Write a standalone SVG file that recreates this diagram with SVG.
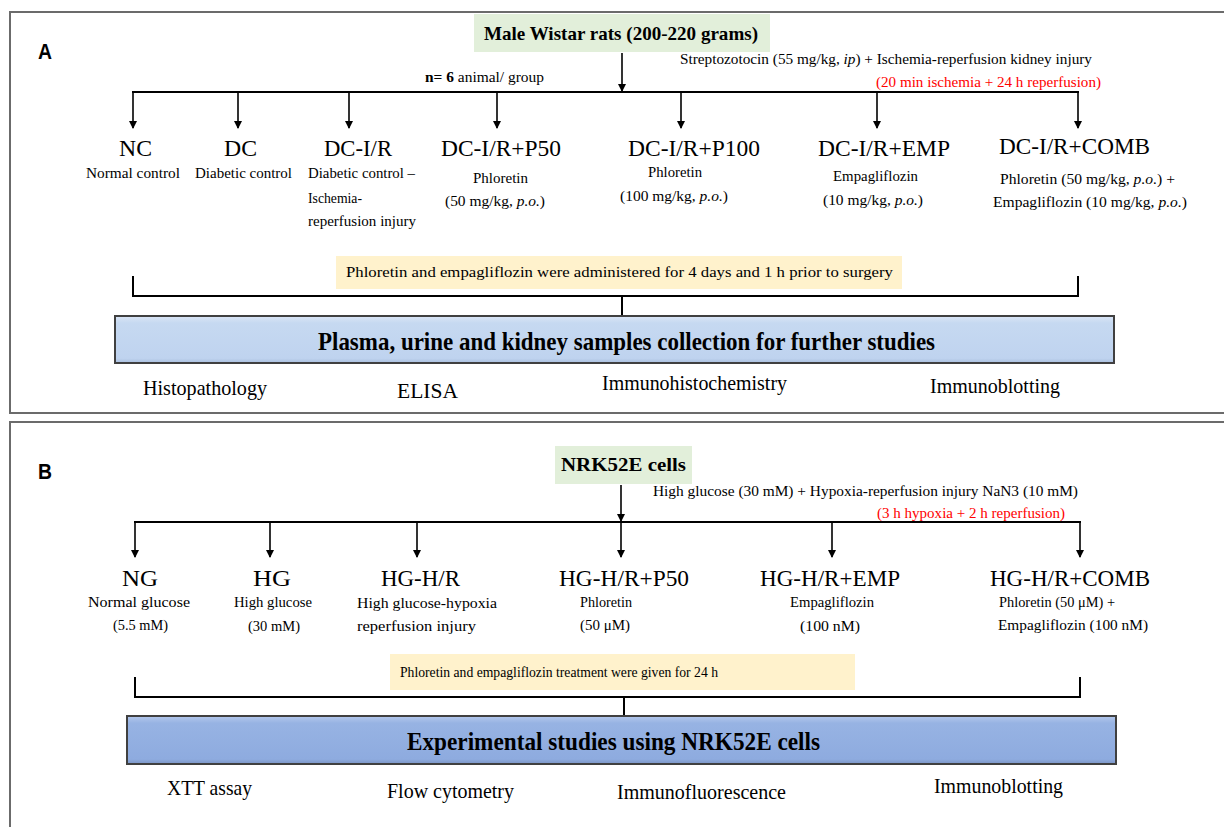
<svg xmlns="http://www.w3.org/2000/svg" width="1224" height="827" viewBox="0 0 1224 827">
<style>
.panel{fill:#fff;stroke:#6b6b6b;stroke-width:2}
.ln{stroke:#000;stroke-width:2;fill:none}
.ar{stroke:#000;stroke-width:1.6;fill:none;marker-end:url(#ah)}
.t{font-family:"Liberation Serif","Times New Roman",serif;fill:#000}
.big{font-size:24px}
.sub{font-size:15px}
.note{font-size:15px}
.bot{font-size:21px}
.red{fill:#ff0000}
.bold{font-weight:bold}
.lab{font-family:"Liberation Sans",Arial,sans-serif;font-weight:bold;font-size:22px}
.green{fill:#e2efda}
.beige{fill:#fff2cc}
.boxA{fill:url(#gA);stroke:#404040;stroke-width:2}
.boxB{fill:url(#gB);stroke:#404040;stroke-width:2}
</style>
<defs>
<marker id="ah" markerWidth="8" markerHeight="8" refX="7" refY="4" orient="auto" markerUnits="userSpaceOnUse">
<path d="M0,0 L8,4 L0,8 Z" fill="#000"/>
</marker>
<linearGradient id="gA" x1="0" y1="0" x2="0" y2="1">
<stop offset="0" stop-color="#dbe6f6"/>
<stop offset="0.15" stop-color="#c6d9f1"/>
<stop offset="0.9" stop-color="#bfd3ef"/>
<stop offset="1" stop-color="#a9bedd"/>
</linearGradient>
<linearGradient id="gB" x1="0" y1="0" x2="0" y2="1">
<stop offset="0" stop-color="#b4c8ec"/>
<stop offset="0.15" stop-color="#97b3e3"/>
<stop offset="0.9" stop-color="#8eabdf"/>
<stop offset="1" stop-color="#7c95c4"/>
</linearGradient>
</defs>

<g id="panelA">
<rect class="panel" x="10" y="12" width="1224" height="401"/>
<text class="lab" x="38" y="59" textLength="14" lengthAdjust="spacingAndGlyphs">A</text>
</g>
<g id="panelB">
<rect class="panel" x="10" y="422" width="1224" height="420"/>
<text class="lab" x="38" y="479" textLength="14" lengthAdjust="spacingAndGlyphs">B</text>
</g>

<g id="connectors">
<line class="ar" x1="622" y1="53" x2="622" y2="91"/>
<line class="ln" x1="132" y1="92" x2="1079" y2="92"/>
<line class="ar" x1="133" y1="92" x2="133" y2="128"/>
<line class="ar" x1="238" y1="92" x2="238" y2="128"/>
<line class="ar" x1="349" y1="92" x2="349" y2="128"/>
<line class="ar" x1="497" y1="92" x2="497" y2="128"/>
<line class="ar" x1="681" y1="92" x2="681" y2="128"/>
<line class="ar" x1="877" y1="92" x2="877" y2="128"/>
<line class="ar" x1="1078" y1="92" x2="1078" y2="128"/>
<polyline class="ln" points="133,276 133,296 1078,296 1078,276"/>
<line class="ln" x1="622" y1="296" x2="622" y2="315"/>
<line class="ar" x1="621" y1="485" x2="621" y2="521"/>
<line class="ln" x1="134" y1="522" x2="1081" y2="522"/>
<line class="ar" x1="135" y1="522" x2="135" y2="557"/>
<line class="ar" x1="270" y1="522" x2="270" y2="557"/>
<line class="ar" x1="417" y1="522" x2="417" y2="557"/>
<line class="ar" x1="621" y1="522" x2="621" y2="557"/>
<line class="ar" x1="832" y1="522" x2="832" y2="557"/>
<line class="ar" x1="1080" y1="522" x2="1080" y2="557"/>
<polyline class="ln" points="135,677 135,697 1080,697 1080,677"/>
<line class="ln" x1="624" y1="697" x2="624" y2="716"/>
</g>

<g id="rats">
<rect class="green" x="474" y="14" width="296" height="38"/>
<text class="t bold" x="484" y="40" font-size="19" textLength="274" lengthAdjust="spacingAndGlyphs">Male Wistar rats (200-220 grams)</text>
</g>
<g id="nA">
<text class="t note" x="425" y="82" textLength="119" lengthAdjust="spacingAndGlyphs"><tspan font-weight="bold">n= 6</tspan> animal/  group</text>
</g>
<g id="stz">
<text class="t note" x="680" y="64" textLength="412" lengthAdjust="spacingAndGlyphs">Streptozotocin  (55 mg/kg,  <tspan font-style="italic">ip</tspan>) + Ischemia-reperfusion  kidney  injury</text>
<text class="t note red" x="876" y="87" textLength="225" lengthAdjust="spacingAndGlyphs">(20 min  ischemia  + 24 h reperfusion)</text>
</g>
<g id="NC">
<text class="t big" x="119" y="156" textLength="33" lengthAdjust="spacingAndGlyphs">NC</text>
<text class="t sub" x="86" y="178" textLength="94" lengthAdjust="spacingAndGlyphs">Normal control</text>
</g>
<g id="DC">
<text class="t big" x="224" y="156" textLength="33" lengthAdjust="spacingAndGlyphs">DC</text>
<text class="t sub" x="195" y="178" textLength="97" lengthAdjust="spacingAndGlyphs">Diabetic  control</text>
</g>
<g id="DCIR">
<text class="t big" x="324" y="156" textLength="68" lengthAdjust="spacingAndGlyphs">DC-I/R</text>
<text class="t sub" x="308" y="178" textLength="107" lengthAdjust="spacingAndGlyphs">Diabetic  control –</text>
<text class="t sub" x="308" y="203" textLength="54" lengthAdjust="spacingAndGlyphs">Ischemia-</text>
<text class="t sub" x="308" y="226" textLength="108" lengthAdjust="spacingAndGlyphs">reperfusion  injury</text>
</g>
<g id="DCIRP50">
<text class="t big" x="441" y="156" textLength="120" lengthAdjust="spacingAndGlyphs">DC-I/R+P50</text>
<text class="t sub" x="473" y="183" textLength="55" lengthAdjust="spacingAndGlyphs">Phloretin</text>
<text class="t sub" x="445" y="206" textLength="100" lengthAdjust="spacingAndGlyphs">(50 mg/kg,  <tspan font-style="italic">p.o.</tspan>)</text>
</g>
<g id="DCIRP100">
<text class="t big" x="628" y="156" textLength="132" lengthAdjust="spacingAndGlyphs">DC-I/R+P100</text>
<text class="t sub" x="648" y="177" textLength="54" lengthAdjust="spacingAndGlyphs">Phloretin</text>
<text class="t sub" x="620" y="201" textLength="108" lengthAdjust="spacingAndGlyphs">(100 mg/kg,  <tspan font-style="italic">p.o.</tspan>)</text>
</g>
<g id="DCIREMP">
<text class="t big" x="818" y="156" textLength="132" lengthAdjust="spacingAndGlyphs">DC-I/R+EMP</text>
<text class="t sub" x="833" y="181" textLength="85" lengthAdjust="spacingAndGlyphs">Empagliflozin</text>
<text class="t sub" x="823" y="205" textLength="100" lengthAdjust="spacingAndGlyphs">(10 mg/kg,  <tspan font-style="italic">p.o.</tspan>)</text>
</g>
<g id="DCIRCOMB">
<text class="t big" x="999" y="154" textLength="151" lengthAdjust="spacingAndGlyphs">DC-I/R+COMB</text>
<text class="t sub" x="1000" y="184" textLength="175" lengthAdjust="spacingAndGlyphs">Phloretin  (50 mg/kg,  <tspan font-style="italic">p.o.</tspan>) +</text>
<text class="t sub" x="993" y="207" textLength="194" lengthAdjust="spacingAndGlyphs">Empagliflozin  (10 mg/kg,  <tspan font-style="italic">p.o.</tspan>)</text>
</g>
<g id="treatA">
<rect class="beige" x="336" y="256" width="566" height="33"/>
<text class="t note" x="346" y="277" textLength="547" lengthAdjust="spacingAndGlyphs">Phloretin and empagliflozin  were administered  for 4 days  and  1 h  prior to surgery</text>
</g>
<g id="collectA">
<rect class="boxA" x="115" y="316" width="999" height="47"/>
<text class="t bold" x="318" y="350" font-size="26" textLength="617" lengthAdjust="spacingAndGlyphs">Plasma, urine and kidney samples  collection for further studies</text>
</g>
<g id="assaysA">
<text class="t bot" x="143" y="395" textLength="124" lengthAdjust="spacingAndGlyphs">Histopathology</text>
<text class="t bot" x="397" y="398" textLength="61" lengthAdjust="spacingAndGlyphs">ELISA</text>
<text class="t bot" x="602" y="390" textLength="185" lengthAdjust="spacingAndGlyphs">Immunohistochemistry</text>
<text class="t bot" x="930" y="393" textLength="130" lengthAdjust="spacingAndGlyphs">Immunoblotting</text>
</g>

<g id="cells">
<rect class="green" x="555" y="446" width="137" height="38"/>
<text class="t bold" x="561" y="471" font-size="19" textLength="125" lengthAdjust="spacingAndGlyphs">NRK52E  cells</text>
</g>
<g id="hg">
<text class="t note" x="653" y="496" textLength="425" lengthAdjust="spacingAndGlyphs">High  glucose  (30 mM) + Hypoxia-reperfusion  injury  NaN3 (10 mM)</text>
<text class="t note red" x="877" y="518" textLength="188" lengthAdjust="spacingAndGlyphs">(3 h hypoxia  + 2 h reperfusion)</text>
</g>
<g id="NG">
<text class="t big" x="122" y="586" textLength="36" lengthAdjust="spacingAndGlyphs">NG</text>
<text class="t sub" x="88" y="607" textLength="102" lengthAdjust="spacingAndGlyphs">Normal  glucose</text>
<text class="t sub" x="113" y="630" textLength="55" lengthAdjust="spacingAndGlyphs">(5.5 mM)</text>
</g>
<g id="HG">
<text class="t big" x="253" y="586" textLength="38" lengthAdjust="spacingAndGlyphs">HG</text>
<text class="t sub" x="234" y="607" textLength="78" lengthAdjust="spacingAndGlyphs">High  glucose</text>
<text class="t sub" x="248" y="631" textLength="52" lengthAdjust="spacingAndGlyphs">(30 mM)</text>
</g>
<g id="HGHR">
<text class="t big" x="381" y="586" textLength="79" lengthAdjust="spacingAndGlyphs">HG-H/R</text>
<text class="t sub" x="357" y="608" textLength="140" lengthAdjust="spacingAndGlyphs">High  glucose-hypoxia</text>
<text class="t sub" x="357" y="631" textLength="119" lengthAdjust="spacingAndGlyphs">reperfusion  injury</text>
</g>
<g id="HGHRP50">
<text class="t big" x="559" y="586" textLength="130" lengthAdjust="spacingAndGlyphs">HG-H/R+P50</text>
<text class="t sub" x="580" y="607" textLength="52" lengthAdjust="spacingAndGlyphs">Phloretin</text>
<text class="t sub" x="580" y="630" textLength="50" lengthAdjust="spacingAndGlyphs">(50  μM)</text>
</g>
<g id="HGHREMP">
<text class="t big" x="760" y="586" textLength="140" lengthAdjust="spacingAndGlyphs">HG-H/R+EMP</text>
<text class="t sub" x="790" y="607" textLength="84" lengthAdjust="spacingAndGlyphs">Empagliflozin</text>
<text class="t sub" x="800" y="631" textLength="60" lengthAdjust="spacingAndGlyphs">(100 nM)</text>
</g>
<g id="HGHRCOMB">
<text class="t big" x="990" y="586" textLength="160" lengthAdjust="spacingAndGlyphs">HG-H/R+COMB</text>
<text class="t sub" x="999" y="607" textLength="116" lengthAdjust="spacingAndGlyphs">Phloretin  (50  μM) +</text>
<text class="t sub" x="998" y="630" textLength="150" lengthAdjust="spacingAndGlyphs">Empagliflozin  (100 nM)</text>
</g>
<g id="treatB">
<rect class="beige" x="390" y="654" width="465" height="36"/>
<text class="t note" x="400" y="677" textLength="318" lengthAdjust="spacingAndGlyphs">Phloretin and empagliflozin  treatment were given  for 24 h</text>
</g>
<g id="studiesB">
<rect class="boxB" x="127" y="716" width="989" height="48"/>
<text class="t bold" x="407" y="750" font-size="26" textLength="413" lengthAdjust="spacingAndGlyphs">Experimental studies using NRK52E cells</text>
</g>
<g id="assaysB">
<text class="t bot" x="167" y="795" textLength="85" lengthAdjust="spacingAndGlyphs">XTT  assay</text>
<text class="t bot" x="387" y="798" textLength="127" lengthAdjust="spacingAndGlyphs">Flow cytometry</text>
<text class="t bot" x="617" y="799" textLength="169" lengthAdjust="spacingAndGlyphs">Immunofluorescence</text>
<text class="t bot" x="934" y="793" textLength="129" lengthAdjust="spacingAndGlyphs">Immunoblotting</text>
</g>
</svg>
